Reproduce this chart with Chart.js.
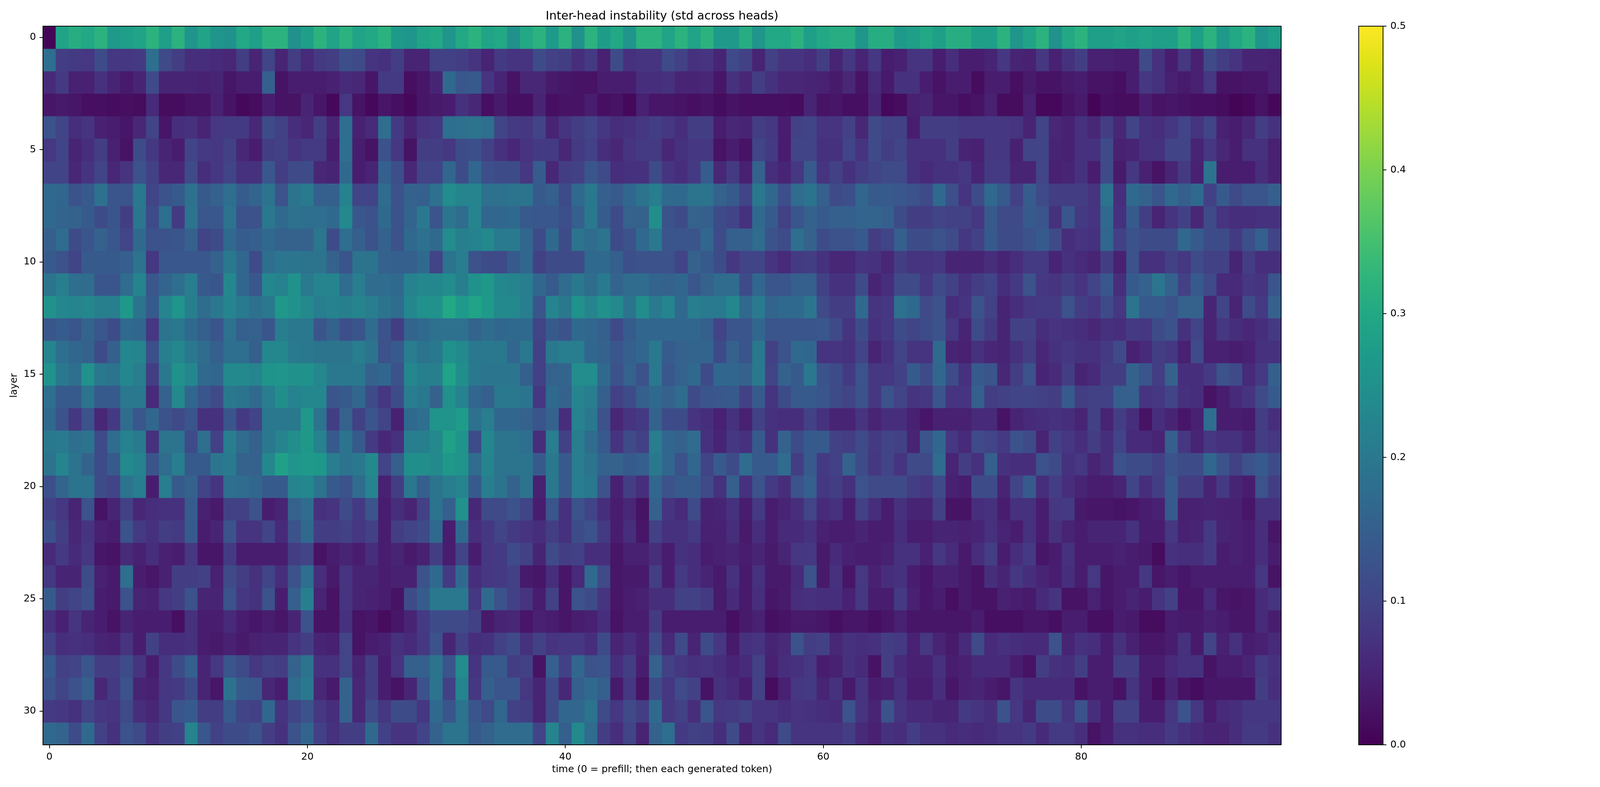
<!DOCTYPE html>
<html>
<head>
<meta charset="utf-8">
<title>Inter-head instability</title>
<script src="https://cdn.jsdelivr.net/npm/chart.js@4.4.0/dist/chart.umd.min.js"></script>
<style>
  html, body { margin: 0; padding: 0; background: #fff; overflow: hidden; }
  canvas { position: absolute; left: 0; top: 0; }
</style>
</head>
<body>
<canvas id="heatmap"></canvas>
<canvas id="colorbar"></canvas>
<script>
// std across heads, one array per layer, one value per time step (0 = prefill)
const layer00 = [0.005,0.29,0.31,0.3,0.32,0.27,0.28,0.29,0.32,0.28,0.32,0.26,0.29,0.26,0.25,0.3,0.28,0.32,0.32,0.25,0.28,0.32,0.29,0.32, 0.29,0.3,0.32,0.27,0.26,0.29,0.3,0.26,0.3,0.32,0.29,0.3,0.25,0.3,0.32,0.27,0.32,0.25,0.32,0.275,0.3,0.26,0.32,0.32, 0.29,0.32,0.29,0.32,0.27,0.27,0.31,0.26,0.3,0.3,0.32,0.28,0.3,0.31,0.31,0.26,0.31,0.31,0.27,0.28,0.3,0.28,0.31,0.31, 0.28,0.28,0.32,0.26,0.29,0.32,0.25,0.3,0.32,0.28,0.28,0.29,0.28,0.29,0.28,0.28,0.32,0.28,0.32,0.27,0.3,0.32,0.26,0.28];
const layer01 = [0.18,0.09,0.085,0.08,0.115,0.08,0.08,0.085,0.18,0.11,0.09,0.065,0.065,0.06,0.055,0.09,0.05,0.1,0.05,0.09,0.06,0.085,0.09,0.12, 0.11,0.075,0.07,0.09,0.05,0.05,0.095,0.095,0.09,0.075,0.05,0.085,0.075,0.075,0.115,0.095,0.09,0.065,0.085,0.045,0.115,0.07,0.075,0.075, 0.11,0.095,0.07,0.075,0.05,0.11,0.095,0.05,0.095,0.075,0.075,0.065,0.09,0.05,0.08,0.05,0.08,0.04,0.045,0.075,0.075,0.04,0.065,0.04, 0.04,0.05,0.08,0.05,0.045,0.08,0.045,0.07,0.09,0.045,0.045,0.04,0.04,0.11,0.07,0.04,0.08,0.045,0.11,0.09,0.075,0.05,0.05,0.045];
const layer02 = [0.06,0.085,0.045,0.045,0.07,0.05,0.035,0.05,0.11,0.05,0.05,0.05,0.045,0.05,0.03,0.04,0.04,0.15,0.025,0.04,0.04,0.04,0.045,0.06, 0.055,0.03,0.085,0.085,0.02,0.03,0.05,0.17,0.135,0.14,0.075,0.05,0.025,0.055,0.055,0.035,0.03,0.025,0.025,0.04,0.04,0.04,0.065,0.065, 0.07,0.05,0.05,0.055,0.03,0.07,0.055,0.09,0.07,0.055,0.055,0.05,0.045,0.035,0.055,0.025,0.06,0.035,0.07,0.07,0.04,0.025,0.04,0.04, 0.015,0.04,0.04,0.02,0.035,0.025,0.025,0.035,0.04,0.025,0.025,0.02,0.04,0.08,0.07,0.045,0.035,0.045,0.08,0.025,0.025,0.03,0.03,0.045];
const layer03 = [0.03,0.035,0.03,0.02,0.02,0.015,0.02,0.015,0.06,0.015,0.015,0.025,0.025,0.045,0.025,0.01,0.015,0.04,0.025,0.025,0.05,0.03,0.01,0.08, 0.025,0.01,0.03,0.02,0.01,0.03,0.035,0.04,0.07,0.055,0.02,0.035,0.02,0.02,0.05,0.02,0.025,0.025,0.04,0.02,0.025,0.01,0.045,0.03, 0.03,0.025,0.02,0.025,0.015,0.025,0.02,0.02,0.02,0.02,0.015,0.05,0.025,0.03,0.02,0.02,0.05,0.01,0.015,0.045,0.05,0.03,0.03,0.02, 0.025,0.045,0.015,0.015,0.045,0.01,0.01,0.025,0.035,0.005,0.02,0.015,0.015,0.04,0.025,0.03,0.025,0.02,0.02,0.015,0.005,0.01,0.025,0.01];
const layer04 = [0.125,0.1,0.065,0.075,0.045,0.04,0.03,0.055,0.1,0.03,0.065,0.07,0.05,0.08,0.085,0.085,0.055,0.115,0.095,0.065,0.055,0.09,0.05,0.18, 0.045,0.06,0.18,0.085,0.05,0.075,0.08,0.18,0.185,0.19,0.18,0.1,0.085,0.08,0.1,0.05,0.075,0.09,0.1,0.08,0.065,0.07,0.08,0.09, 0.08,0.065,0.09,0.09,0.04,0.055,0.05,0.09,0.08,0.04,0.095,0.1,0.075,0.075,0.095,0.055,0.11,0.095,0.095,0.04,0.09,0.09,0.09,0.08, 0.08,0.08,0.08,0.075,0.05,0.1,0.055,0.045,0.07,0.055,0.09,0.055,0.1,0.07,0.065,0.08,0.1,0.075,0.1,0.045,0.04,0.055,0.09,0.07];
const layer05 = [0.08,0.1,0.05,0.065,0.09,0.045,0.025,0.115,0.08,0.05,0.04,0.1,0.085,0.08,0.095,0.055,0.04,0.09,0.095,0.075,0.085,0.085,0.04,0.18, 0.04,0.025,0.125,0.08,0.025,0.09,0.09,0.08,0.115,0.12,0.095,0.07,0.055,0.075,0.085,0.085,0.055,0.085,0.095,0.065,0.055,0.075,0.085,0.085, 0.055,0.07,0.08,0.08,0.025,0.04,0.025,0.1,0.085,0.04,0.1,0.1,0.07,0.07,0.1,0.075,0.11,0.09,0.1,0.07,0.07,0.07,0.09,0.05, 0.045,0.08,0.08,0.045,0.1,0.1,0.05,0.045,0.07,0.07,0.11,0.045,0.05,0.07,0.07,0.1,0.1,0.05,0.08,0.055,0.04,0.07,0.07,0.045];
const layer06 = [0.1,0.1,0.055,0.075,0.1,0.055,0.075,0.125,0.095,0.055,0.055,0.11,0.065,0.08,0.1,0.07,0.07,0.135,0.09,0.11,0.115,0.055,0.05,0.17, 0.04,0.05,0.15,0.12,0.055,0.1,0.1,0.165,0.115,0.165,0.12,0.115,0.115,0.08,0.145,0.055,0.09,0.095,0.13,0.115,0.065,0.07,0.07,0.115, 0.075,0.065,0.085,0.145,0.055,0.085,0.045,0.155,0.065,0.05,0.08,0.14,0.075,0.095,0.07,0.09,0.1,0.11,0.11,0.07,0.06,0.07,0.07,0.08, 0.05,0.085,0.085,0.05,0.05,0.1,0.045,0.05,0.07,0.04,0.11,0.035,0.08,0.045,0.025,0.05,0.085,0.045,0.19,0.04,0.04,0.04,0.065,0.045];
const layer07 = [0.17,0.165,0.125,0.14,0.185,0.13,0.13,0.2,0.1,0.125,0.14,0.185,0.14,0.155,0.18,0.145,0.16,0.19,0.125,0.19,0.205,0.15,0.15,0.22, 0.1,0.1,0.175,0.125,0.155,0.15,0.185,0.24,0.225,0.225,0.185,0.185,0.19,0.19,0.14,0.15,0.115,0.17,0.2,0.15,0.14,0.165,0.19,0.21, 0.17,0.17,0.19,0.19,0.155,0.14,0.1,0.2,0.165,0.12,0.175,0.19,0.15,0.11,0.12,0.165,0.14,0.14,0.135,0.125,0.11,0.17,0.12,0.075, 0.11,0.17,0.14,0.095,0.145,0.11,0.09,0.09,0.09,0.075,0.19,0.065,0.17,0.155,0.13,0.17,0.15,0.17,0.095,0.14,0.11,0.13,0.13,0.15];
const layer08 = [0.17,0.16,0.155,0.14,0.115,0.13,0.09,0.195,0.115,0.18,0.085,0.19,0.135,0.135,0.19,0.125,0.125,0.2,0.17,0.185,0.18,0.18,0.17,0.235, 0.135,0.125,0.17,0.125,0.16,0.2,0.13,0.195,0.175,0.225,0.165,0.165,0.17,0.14,0.135,0.135,0.12,0.15,0.2,0.145,0.115,0.155,0.155,0.245, 0.125,0.115,0.155,0.15,0.115,0.1,0.07,0.17,0.14,0.095,0.13,0.155,0.14,0.15,0.15,0.16,0.16,0.15,0.115,0.09,0.09,0.1,0.095,0.095, 0.08,0.14,0.11,0.11,0.14,0.13,0.07,0.13,0.085,0.075,0.17,0.07,0.14,0.09,0.05,0.075,0.095,0.055,0.11,0.075,0.065,0.065,0.07,0.07];
const layer09 = [0.15,0.175,0.115,0.13,0.155,0.135,0.1,0.17,0.125,0.125,0.13,0.155,0.1,0.115,0.17,0.145,0.15,0.17,0.155,0.155,0.155,0.195,0.115,0.18, 0.15,0.125,0.155,0.125,0.17,0.185,0.17,0.24,0.215,0.22,0.235,0.205,0.205,0.165,0.115,0.17,0.115,0.19,0.175,0.19,0.115,0.125,0.17,0.2, 0.13,0.13,0.13,0.165,0.115,0.15,0.15,0.175,0.125,0.115,0.18,0.155,0.115,0.125,0.125,0.14,0.09,0.1,0.15,0.115,0.115,0.125,0.11,0.08, 0.095,0.14,0.115,0.115,0.125,0.14,0.11,0.065,0.075,0.07,0.165,0.095,0.125,0.115,0.115,0.115,0.165,0.14,0.115,0.115,0.085,0.12,0.15,0.1];
const layer10 = [0.14,0.125,0.1,0.14,0.14,0.14,0.15,0.19,0.08,0.135,0.135,0.135,0.135,0.155,0.2,0.165,0.115,0.18,0.195,0.195,0.19,0.19,0.155,0.13, 0.19,0.19,0.155,0.15,0.15,0.17,0.1,0.19,0.21,0.125,0.115,0.11,0.14,0.165,0.095,0.115,0.115,0.115,0.17,0.17,0.15,0.12,0.125,0.125, 0.125,0.1,0.155,0.14,0.115,0.08,0.1,0.1,0.075,0.06,0.085,0.09,0.07,0.055,0.055,0.075,0.07,0.055,0.09,0.075,0.075,0.08,0.05,0.05, 0.05,0.065,0.05,0.065,0.085,0.085,0.05,0.07,0.06,0.05,0.09,0.045,0.125,0.07,0.07,0.095,0.08,0.11,0.095,0.095,0.05,0.09,0.065,0.065];
const layer11 = [0.19,0.215,0.18,0.175,0.13,0.13,0.175,0.225,0.135,0.16,0.18,0.21,0.14,0.13,0.23,0.165,0.135,0.23,0.22,0.25,0.205,0.225,0.225,0.175, 0.21,0.175,0.175,0.17,0.22,0.23,0.23,0.24,0.215,0.25,0.265,0.23,0.225,0.21,0.165,0.14,0.175,0.2,0.175,0.205,0.16,0.175,0.175,0.16, 0.155,0.165,0.135,0.155,0.175,0.175,0.115,0.165,0.13,0.13,0.15,0.15,0.095,0.07,0.07,0.11,0.05,0.065,0.11,0.11,0.08,0.11,0.095,0.07, 0.09,0.1,0.065,0.085,0.125,0.08,0.075,0.09,0.075,0.1,0.135,0.065,0.14,0.155,0.195,0.155,0.095,0.14,0.11,0.06,0.06,0.08,0.075,0.13];
const layer12 = [0.25,0.23,0.225,0.23,0.215,0.215,0.265,0.19,0.14,0.225,0.26,0.215,0.175,0.2,0.225,0.205,0.185,0.2,0.265,0.25,0.235,0.21,0.22,0.215, 0.225,0.21,0.19,0.175,0.23,0.25,0.25,0.3,0.27,0.29,0.27,0.235,0.235,0.21,0.13,0.225,0.2,0.25,0.225,0.25,0.235,0.19,0.245,0.205, 0.225,0.17,0.21,0.205,0.205,0.23,0.17,0.205,0.16,0.17,0.17,0.195,0.11,0.09,0.09,0.17,0.075,0.08,0.185,0.17,0.11,0.125,0.065,0.075, 0.125,0.095,0.05,0.065,0.08,0.085,0.085,0.125,0.09,0.08,0.11,0.08,0.19,0.14,0.14,0.125,0.155,0.155,0.05,0.1,0.05,0.11,0.085,0.155];
const layer13 = [0.13,0.145,0.13,0.16,0.135,0.115,0.17,0.165,0.08,0.19,0.2,0.17,0.15,0.13,0.185,0.15,0.155,0.13,0.21,0.2,0.2,0.13,0.155,0.12, 0.13,0.175,0.125,0.09,0.16,0.17,0.185,0.185,0.185,0.16,0.175,0.165,0.17,0.17,0.1,0.14,0.125,0.17,0.165,0.15,0.11,0.145,0.165,0.165, 0.165,0.165,0.165,0.15,0.1,0.13,0.13,0.165,0.13,0.13,0.13,0.13,0.135,0.11,0.075,0.115,0.07,0.08,0.115,0.1,0.115,0.125,0.08,0.05, 0.115,0.085,0.05,0.095,0.095,0.065,0.075,0.07,0.065,0.055,0.07,0.065,0.085,0.08,0.115,0.125,0.07,0.1,0.05,0.08,0.065,0.055,0.065,0.085];
const layer14 = [0.225,0.18,0.165,0.155,0.115,0.15,0.23,0.225,0.12,0.215,0.23,0.2,0.175,0.15,0.18,0.18,0.15,0.23,0.23,0.205,0.2,0.19,0.19,0.19, 0.21,0.19,0.125,0.14,0.21,0.19,0.2,0.25,0.235,0.2,0.2,0.2,0.165,0.2,0.095,0.2,0.21,0.21,0.165,0.155,0.135,0.15,0.165,0.2, 0.145,0.155,0.16,0.16,0.115,0.155,0.13,0.2,0.095,0.125,0.17,0.165,0.075,0.075,0.07,0.1,0.05,0.07,0.1,0.075,0.075,0.17,0.05,0.045, 0.07,0.055,0.05,0.07,0.09,0.055,0.07,0.08,0.07,0.07,0.085,0.11,0.045,0.06,0.09,0.08,0.045,0.11,0.045,0.045,0.04,0.045,0.07,0.07];
const layer15 = [0.25,0.2,0.18,0.25,0.2,0.19,0.23,0.21,0.09,0.2,0.25,0.23,0.17,0.165,0.235,0.235,0.225,0.255,0.26,0.25,0.25,0.23,0.2,0.2, 0.2,0.155,0.165,0.125,0.23,0.215,0.215,0.29,0.245,0.2,0.195,0.195,0.195,0.15,0.095,0.155,0.16,0.24,0.24,0.17,0.125,0.155,0.125,0.2, 0.135,0.155,0.17,0.115,0.165,0.165,0.155,0.2,0.1,0.155,0.14,0.2,0.125,0.115,0.085,0.125,0.08,0.08,0.095,0.14,0.115,0.165,0.115,0.07, 0.14,0.13,0.055,0.09,0.125,0.05,0.06,0.09,0.05,0.06,0.09,0.09,0.155,0.13,0.09,0.155,0.065,0.065,0.085,0.125,0.11,0.06,0.085,0.15];
const layer16 = [0.18,0.14,0.14,0.19,0.14,0.14,0.2,0.2,0.06,0.155,0.235,0.165,0.13,0.11,0.2,0.19,0.17,0.21,0.245,0.22,0.23,0.23,0.13,0.14, 0.165,0.115,0.08,0.115,0.21,0.2,0.155,0.25,0.22,0.165,0.15,0.2,0.2,0.19,0.08,0.17,0.155,0.225,0.21,0.15,0.095,0.115,0.15,0.17, 0.155,0.175,0.115,0.13,0.135,0.14,0.095,0.14,0.075,0.115,0.14,0.14,0.13,0.115,0.1,0.125,0.08,0.125,0.1,0.075,0.08,0.13,0.075,0.075, 0.15,0.09,0.095,0.1,0.1,0.095,0.09,0.14,0.09,0.095,0.095,0.15,0.15,0.075,0.08,0.1,0.07,0.065,0.025,0.04,0.06,0.075,0.11,0.14];
const layer17 = [0.17,0.125,0.08,0.125,0.055,0.085,0.175,0.135,0.165,0.125,0.11,0.13,0.07,0.07,0.13,0.085,0.1,0.2,0.2,0.2,0.265,0.19,0.09,0.155, 0.095,0.13,0.1,0.045,0.17,0.18,0.255,0.255,0.275,0.185,0.21,0.165,0.165,0.155,0.13,0.155,0.065,0.22,0.2,0.125,0.055,0.075,0.085,0.155, 0.115,0.115,0.075,0.065,0.045,0.07,0.045,0.095,0.07,0.065,0.065,0.095,0.07,0.05,0.05,0.075,0.05,0.065,0.065,0.045,0.03,0.045,0.045,0.045, 0.06,0.06,0.025,0.05,0.06,0.065,0.07,0.065,0.05,0.095,0.05,0.09,0.065,0.025,0.065,0.05,0.03,0.045,0.18,0.04,0.04,0.035,0.09,0.065];
const layer18 = [0.2,0.205,0.18,0.19,0.11,0.175,0.22,0.205,0.07,0.19,0.19,0.115,0.18,0.095,0.21,0.175,0.155,0.2,0.225,0.245,0.265,0.22,0.14,0.19, 0.14,0.085,0.055,0.07,0.21,0.215,0.235,0.285,0.255,0.115,0.23,0.19,0.19,0.18,0.065,0.21,0.095,0.21,0.175,0.14,0.075,0.11,0.095,0.21, 0.165,0.155,0.175,0.07,0.05,0.08,0.07,0.14,0.07,0.155,0.115,0.14,0.14,0.095,0.09,0.11,0.085,0.1,0.095,0.05,0.13,0.165,0.08,0.06, 0.11,0.1,0.085,0.125,0.115,0.05,0.095,0.08,0.065,0.09,0.065,0.1,0.06,0.06,0.05,0.15,0.08,0.05,0.08,0.07,0.07,0.05,0.09,0.08];
const layer19 = [0.19,0.225,0.19,0.155,0.115,0.14,0.235,0.22,0.13,0.175,0.21,0.14,0.14,0.195,0.205,0.155,0.155,0.23,0.285,0.26,0.27,0.265,0.21,0.19, 0.2,0.235,0.1,0.15,0.245,0.245,0.235,0.265,0.255,0.175,0.225,0.19,0.19,0.19,0.14,0.2,0.14,0.21,0.19,0.155,0.155,0.14,0.15,0.2, 0.165,0.125,0.165,0.1,0.14,0.115,0.175,0.14,0.14,0.175,0.09,0.14,0.085,0.095,0.155,0.115,0.08,0.1,0.075,0.11,0.11,0.175,0.05,0.09, 0.07,0.15,0.07,0.065,0.065,0.125,0.11,0.07,0.08,0.05,0.065,0.125,0.115,0.115,0.095,0.125,0.115,0.115,0.165,0.125,0.095,0.125,0.14,0.115];
const layer20 = [0.12,0.16,0.19,0.19,0.115,0.1,0.19,0.21,0.04,0.21,0.14,0.155,0.1,0.075,0.18,0.175,0.165,0.14,0.14,0.225,0.23,0.19,0.14,0.125, 0.175,0.225,0.045,0.09,0.2,0.15,0.19,0.21,0.225,0.14,0.21,0.19,0.155,0.19,0.045,0.2,0.14,0.21,0.2,0.125,0.045,0.09,0.065,0.165, 0.125,0.14,0.14,0.11,0.07,0.15,0.07,0.125,0.085,0.065,0.125,0.15,0.08,0.09,0.07,0.125,0.11,0.11,0.11,0.09,0.08,0.11,0.045,0.04, 0.115,0.115,0.05,0.1,0.14,0.065,0.09,0.065,0.05,0.04,0.04,0.05,0.1,0.065,0.09,0.14,0.09,0.09,0.05,0.085,0.05,0.04,0.125,0.09];
const layer21 = [0.095,0.08,0.05,0.125,0.025,0.05,0.095,0.055,0.065,0.07,0.07,0.145,0.045,0.035,0.095,0.095,0.125,0.04,0.05,0.155,0.175,0.07,0.075,0.11, 0.085,0.13,0.04,0.065,0.05,0.095,0.19,0.15,0.25,0.055,0.11,0.11,0.125,0.1,0.04,0.13,0.07,0.125,0.1,0.065,0.04,0.055,0.025,0.155, 0.075,0.06,0.11,0.045,0.05,0.07,0.04,0.085,0.04,0.05,0.065,0.1,0.06,0.07,0.04,0.095,0.065,0.04,0.07,0.05,0.05,0.095,0.025,0.025, 0.065,0.07,0.04,0.07,0.07,0.04,0.08,0.085,0.035,0.03,0.03,0.025,0.03,0.04,0.045,0.14,0.045,0.045,0.05,0.045,0.045,0.03,0.07,0.07];
const layer22 = [0.12,0.09,0.055,0.075,0.045,0.04,0.125,0.085,0.07,0.09,0.085,0.14,0.04,0.05,0.125,0.075,0.075,0.1,0.06,0.125,0.17,0.09,0.09,0.095, 0.08,0.095,0.04,0.09,0.1,0.11,0.17,0.04,0.17,0.065,0.08,0.1,0.085,0.075,0.065,0.09,0.07,0.115,0.125,0.085,0.04,0.065,0.03,0.095, 0.07,0.07,0.085,0.045,0.045,0.065,0.035,0.065,0.04,0.06,0.06,0.07,0.045,0.04,0.04,0.05,0.04,0.04,0.065,0.04,0.04,0.05,0.05,0.045, 0.05,0.07,0.05,0.04,0.07,0.04,0.07,0.05,0.04,0.05,0.05,0.05,0.07,0.04,0.04,0.08,0.045,0.05,0.085,0.05,0.045,0.04,0.065,0.03];
const layer23 = [0.06,0.085,0.06,0.08,0.03,0.025,0.06,0.045,0.065,0.045,0.04,0.08,0.03,0.03,0.085,0.04,0.04,0.04,0.04,0.09,0.1,0.025,0.04,0.05, 0.04,0.065,0.04,0.05,0.035,0.045,0.09,0.04,0.1,0.04,0.08,0.085,0.11,0.095,0.05,0.11,0.09,0.095,0.065,0.065,0.03,0.045,0.045,0.065, 0.04,0.07,0.065,0.04,0.045,0.05,0.04,0.05,0.035,0.05,0.08,0.08,0.035,0.06,0.045,0.04,0.04,0.045,0.07,0.07,0.045,0.08,0.06,0.035, 0.065,0.09,0.04,0.065,0.085,0.03,0.04,0.07,0.04,0.04,0.04,0.045,0.04,0.035,0.015,0.07,0.065,0.065,0.085,0.04,0.045,0.04,0.065,0.04];
const layer24 = [0.08,0.05,0.05,0.115,0.045,0.035,0.18,0.04,0.03,0.045,0.09,0.09,0.095,0.045,0.11,0.09,0.07,0.1,0.065,0.125,0.18,0.065,0.035,0.075, 0.05,0.05,0.04,0.045,0.045,0.125,0.17,0.085,0.17,0.065,0.08,0.085,0.095,0.035,0.03,0.065,0.03,0.06,0.17,0.11,0.03,0.035,0.035,0.09, 0.04,0.085,0.065,0.05,0.035,0.07,0.035,0.07,0.035,0.035,0.06,0.125,0.035,0.07,0.03,0.08,0.045,0.065,0.07,0.04,0.03,0.045,0.045,0.035, 0.025,0.065,0.05,0.08,0.065,0.05,0.04,0.065,0.04,0.08,0.03,0.04,0.04,0.08,0.03,0.04,0.03,0.04,0.04,0.04,0.04,0.04,0.08,0.025];
const layer25 = [0.14,0.09,0.1,0.12,0.04,0.035,0.125,0.05,0.045,0.08,0.09,0.125,0.05,0.05,0.125,0.08,0.07,0.125,0.04,0.15,0.215,0.05,0.025,0.075, 0.05,0.045,0.04,0.025,0.115,0.145,0.2,0.2,0.2,0.08,0.17,0.125,0.095,0.075,0.04,0.095,0.03,0.125,0.115,0.075,0.03,0.04,0.045,0.065, 0.065,0.095,0.095,0.085,0.035,0.06,0.035,0.065,0.03,0.035,0.065,0.07,0.065,0.065,0.045,0.08,0.04,0.04,0.085,0.045,0.03,0.04,0.02,0.035, 0.025,0.025,0.045,0.04,0.035,0.06,0.075,0.025,0.025,0.045,0.03,0.04,0.05,0.04,0.075,0.095,0.03,0.03,0.06,0.03,0.025,0.03,0.06,0.075];
const layer26 = [0.07,0.045,0.075,0.05,0.04,0.025,0.05,0.04,0.04,0.04,0.02,0.07,0.04,0.04,0.06,0.04,0.03,0.04,0.03,0.05,0.125,0.025,0.025,0.07, 0.025,0.03,0.015,0.03,0.05,0.085,0.115,0.11,0.11,0.095,0.035,0.05,0.055,0.03,0.045,0.04,0.03,0.04,0.045,0.065,0.025,0.04,0.04,0.085, 0.04,0.04,0.04,0.04,0.04,0.02,0.035,0.045,0.02,0.025,0.035,0.035,0.03,0.02,0.03,0.03,0.02,0.03,0.045,0.03,0.03,0.03,0.03,0.03, 0.04,0.02,0.02,0.02,0.03,0.03,0.02,0.04,0.04,0.02,0.02,0.04,0.035,0.015,0.015,0.04,0.035,0.035,0.045,0.04,0.03,0.03,0.06,0.04];
const layer27 = [0.095,0.065,0.07,0.065,0.05,0.045,0.075,0.04,0.095,0.065,0.065,0.07,0.04,0.035,0.045,0.035,0.045,0.05,0.05,0.075,0.09,0.05,0.045,0.1, 0.025,0.04,0.045,0.07,0.06,0.08,0.125,0.05,0.095,0.065,0.07,0.095,0.11,0.07,0.095,0.075,0.08,0.08,0.065,0.11,0.05,0.065,0.045,0.11, 0.06,0.11,0.05,0.115,0.08,0.035,0.07,0.075,0.05,0.06,0.125,0.09,0.095,0.055,0.07,0.065,0.07,0.09,0.085,0.045,0.08,0.05,0.035,0.06, 0.11,0.06,0.07,0.065,0.06,0.06,0.125,0.05,0.07,0.065,0.04,0.07,0.045,0.03,0.03,0.04,0.07,0.035,0.1,0.045,0.07,0.04,0.045,0.06];
const layer28 = [0.14,0.095,0.1,0.13,0.09,0.09,0.115,0.075,0.04,0.08,0.115,0.15,0.05,0.08,0.13,0.11,0.08,0.095,0.09,0.155,0.19,0.07,0.07,0.1, 0.05,0.09,0.04,0.075,0.15,0.15,0.19,0.13,0.24,0.075,0.14,0.14,0.09,0.095,0.025,0.15,0.095,0.165,0.125,0.13,0.065,0.09,0.04,0.155, 0.095,0.08,0.07,0.075,0.065,0.05,0.06,0.095,0.045,0.065,0.07,0.08,0.04,0.045,0.07,0.06,0.025,0.09,0.06,0.045,0.045,0.07,0.04,0.045, 0.06,0.06,0.06,0.04,0.025,0.09,0.07,0.065,0.09,0.04,0.04,0.09,0.09,0.04,0.04,0.06,0.07,0.07,0.025,0.04,0.04,0.05,0.085,0.07];
const layer29 = [0.125,0.1,0.125,0.15,0.055,0.085,0.125,0.05,0.045,0.08,0.085,0.115,0.05,0.03,0.185,0.14,0.135,0.055,0.04,0.175,0.2,0.055,0.035,0.155, 0.055,0.09,0.04,0.025,0.05,0.125,0.19,0.095,0.225,0.08,0.15,0.13,0.13,0.08,0.05,0.11,0.055,0.15,0.17,0.15,0.035,0.08,0.025,0.115, 0.08,0.11,0.095,0.025,0.07,0.06,0.04,0.095,0.015,0.045,0.08,0.085,0.05,0.07,0.035,0.075,0.04,0.045,0.07,0.04,0.04,0.065,0.03,0.045, 0.05,0.04,0.03,0.075,0.06,0.06,0.06,0.06,0.025,0.04,0.04,0.025,0.075,0.04,0.015,0.05,0.025,0.015,0.03,0.03,0.03,0.03,0.09,0.065];
const layer30 = [0.085,0.08,0.07,0.1,0.08,0.075,0.11,0.065,0.055,0.08,0.13,0.14,0.09,0.09,0.14,0.1,0.095,0.165,0.075,0.1,0.125,0.08,0.065,0.155, 0.055,0.11,0.08,0.115,0.115,0.08,0.17,0.13,0.19,0.13,0.11,0.165,0.095,0.09,0.05,0.11,0.165,0.165,0.19,0.11,0.08,0.11,0.09,0.17, 0.08,0.095,0.065,0.13,0.08,0.085,0.095,0.075,0.075,0.065,0.075,0.07,0.065,0.06,0.125,0.075,0.05,0.125,0.075,0.06,0.06,0.05,0.05,0.085, 0.075,0.065,0.125,0.08,0.05,0.115,0.115,0.075,0.125,0.065,0.04,0.095,0.095,0.04,0.04,0.08,0.125,0.08,0.04,0.06,0.065,0.08,0.08,0.08];
const layer31 = [0.17,0.16,0.115,0.17,0.095,0.07,0.125,0.11,0.07,0.09,0.095,0.225,0.135,0.095,0.115,0.115,0.125,0.09,0.07,0.125,0.16,0.095,0.07,0.09, 0.09,0.17,0.095,0.075,0.075,0.1,0.155,0.19,0.19,0.14,0.155,0.175,0.175,0.175,0.1,0.225,0.15,0.235,0.175,0.09,0.065,0.1,0.05,0.155, 0.18,0.085,0.095,0.09,0.065,0.11,0.05,0.075,0.06,0.11,0.075,0.075,0.075,0.075,0.09,0.06,0.045,0.07,0.065,0.09,0.07,0.07,0.06,0.065, 0.06,0.065,0.075,0.075,0.085,0.06,0.085,0.085,0.065,0.025,0.04,0.07,0.07,0.065,0.065,0.085,0.07,0.06,0.05,0.05,0.065,0.085,0.085,0.07];

const stdByLayer = [layer00, layer01, layer02, layer03, layer04, layer05, layer06, layer07,
  layer08, layer09, layer10, layer11, layer12, layer13, layer14, layer15,
  layer16, layer17, layer18, layer19, layer20, layer21, layer22, layer23,
  layer24, layer25, layer26, layer27, layer28, layer29, layer30, layer31];

const xTicks = [0, 20, 40, 60, 80];
const yTicks = [0, 5, 10, 15, 20, 25, 30];
const colorTicks = [0, 0.1, 0.2, 0.3, 0.4, 0.5];
const colorMin = 0;
const colorMax = 0.5;

// viridis, sampled every 5%
const viridisStops = ['#440154', '#471365', '#482475', '#463480', '#414487', '#3b528b', '#355f8d',
  '#2f6c8e', '#2a788e', '#25848e', '#21918c', '#1e9c89', '#22a884', '#2fb47c', '#44bf70',
  '#5ec962', '#7ad151', '#9bd93c', '#bddf26', '#dfe318', '#fde725'];

function hexToRgb(hex) {
  return [1, 3, 5].map(i => parseInt(hex.slice(i, i + 2), 16));
}

function viridis(v) {
  let t = (v - colorMin) / (colorMax - colorMin);
  t = Math.min(1, Math.max(0, t));
  const pos = t * (viridisStops.length - 1);
  const i = Math.min(Math.floor(pos), viridisStops.length - 2);
  const f = pos - i;
  const a = hexToRgb(viridisStops[i]);
  const b = hexToRgb(viridisStops[i + 1]);
  const c = a.map((ai, k) => Math.round(ai + (b[k] - ai) * f));
  return 'rgb(' + c.join(',') + ')';
}

// layout follows the 6047x2015 figure, stretched to whatever the window really is
const refW = 6047, refH = 2015;
const W = window.innerWidth || refW;
const H = window.innerHeight || refH;
const sx = W / refW, sy = H / refH;
const px = n => n * sy;
const plotLeft = px(110);
const plotRight = 4842 * sx;
const plotTop = px(67);
const plotBottom = H - px(108);
const barLeft = 5135 * sx;
const barRight = 5227 * sx;

for (const id of ['heatmap', 'colorbar']) {
  const c = document.getElementById(id);
  c.width = W;
  c.height = H;
  c.style.width = W + 'px';
  c.style.height = H + 'px';
}

Chart.defaults.font.family = "'DejaVu Sans', sans-serif";
Chart.defaults.color = '#000';

const framePlugin = {
  id: 'frame',
  afterDraw(chart) {
    const {ctx, chartArea} = chart;
    ctx.save();
    ctx.strokeStyle = '#000';
    ctx.lineWidth = px(2);
    ctx.strokeRect(chartArea.left, chartArea.top, chartArea.right - chartArea.left, chartArea.bottom - chartArea.top);
    ctx.restore();
  }
};

const tickGrid = {
  offset: false,
  drawOnChartArea: false,
  drawTicks: true,
  tickLength: px(8.75),
  lineWidth: px(2),
  color: '#000'
};

let heatmapDatasets = stdByLayer.map((row, layer) => ({
  label: 'layer ' + layer,
  data: row.map((v, t) => ({x: t, y: [layer - 0.5, layer + 0.5]})),
  backgroundColor: row.map(v => viridis(v))
}));

let ctxHeatmap = document.getElementById('heatmap').getContext('2d');

let heatmapChart = new Chart(ctxHeatmap, {
  type: 'bar',
  data: { datasets: heatmapDatasets },
  plugins: [framePlugin],
  options: {
    responsive: false,
    animation: false,
    devicePixelRatio: 1,
    layout: {
      padding: { left: 0, right: W - plotRight, top: 0, bottom: 0 }
    },
    datasets: {
      bar: {
        grouped: false,
        barPercentage: 1,
        categoryPercentage: 1,
        borderWidth: 0,
        inflateAmount: 0.5
      }
    },
    plugins: {
      legend: { display: false },
      tooltip: { enabled: false },
      title: {
        display: true,
        fullSize: false,
        text: 'Inter-head instability (std across heads)',
        color: '#000',
        font: { size: px(30), weight: 'normal' },
        padding: { top: px(24), bottom: plotTop - px(24) - px(30) * 1.2 }
      }
    },
    scales: {
      x: {
        type: 'linear',
        offset: false,
        bounds: 'data',
        min: -0.5,
        max: 95.5,
        afterBuildTicks: axis => { axis.ticks = xTicks.map(v => ({ value: v })); },
        afterFit: scale => { scale.height = H - plotBottom; },
        grid: tickGrid,
        border: { display: false },
        ticks: { color: '#000', font: { size: px(25) }, padding: px(8), maxRotation: 0, autoSkip: false },
        title: {
          display: true,
          text: 'time (0 = prefill; then each generated token)',
          color: '#000',
          font: { size: px(25) },
          padding: { top: 0, bottom: px(30) }
        }
      },
      y: {
        type: 'linear',
        offset: false,
        bounds: 'data',
        reverse: true,
        min: -0.5,
        max: 31.5,
        afterBuildTicks: axis => { axis.ticks = yTicks.map(v => ({ value: v })); },
        afterFit: scale => { scale.width = plotLeft; },
        grid: tickGrid,
        border: { display: false },
        ticks: { color: '#000', font: { size: px(25) }, padding: px(9), autoSkip: false },
        title: {
          display: true,
          text: 'layer',
          color: '#000',
          font: { size: px(25) },
          padding: { top: px(21), bottom: 0 }
        }
      }
    }
  }
});

let ctxBar = document.getElementById('colorbar').getContext('2d');

let colorbarChart = new Chart(ctxBar, {
  type: 'bar',
  data: {
    labels: [''],
    datasets: [{
      data: [[colorMin, colorMax]],
      backgroundColor: context => {
        const {ctx, chartArea} = context.chart;
        if (!chartArea) return viridisStops[0];
        const g = ctx.createLinearGradient(0, chartArea.bottom, 0, chartArea.top);
        viridisStops.forEach((c, i) => g.addColorStop(i / (viridisStops.length - 1), c));
        return g;
      },
      borderWidth: 0,
      barPercentage: 1,
      categoryPercentage: 1
    }]
  },
  plugins: [framePlugin],
  options: {
    responsive: false,
    animation: false,
    devicePixelRatio: 1,
    layout: {
      padding: { left: barLeft, right: 0, top: plotTop, bottom: H - plotBottom }
    },
    plugins: {
      legend: { display: false },
      tooltip: { enabled: false }
    },
    scales: {
      x: { display: false },
      y: {
        position: 'right',
        bounds: 'data',
        min: colorMin,
        max: colorMax,
        afterBuildTicks: axis => { axis.ticks = colorTicks.map(v => ({ value: v })); },
        afterFit: scale => { scale.width = W - barRight; },
        grid: tickGrid,
        border: { display: false },
        ticks: {
          color: '#000',
          font: { size: px(25) },
          padding: px(10),
          callback: v => v.toFixed(1)
        }
      }
    }
  }
});
</script>
</body>
</html>
